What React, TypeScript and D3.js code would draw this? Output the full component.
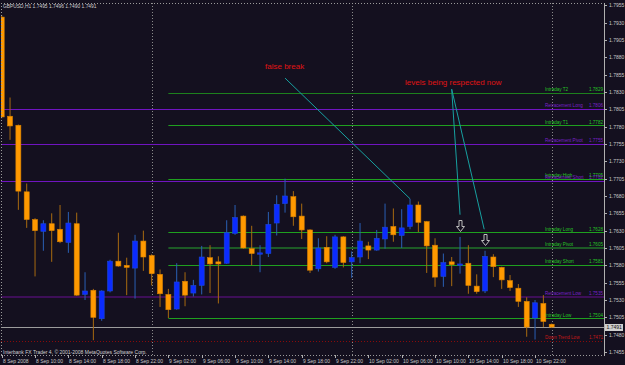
import React from 'react';
import * as d3 from 'd3';

const W = 625;
const H = 365;

const titleText = 'GBPUSD,H1 1.7495 1.7496 1.7490 1.7491';
const copyrightText = 'Interbank FX Trader 4, © 2001-2008 MetaQuotes Software Corp.';

const opens = [1.7938,1.7795,1.7782,1.7686,1.7646,1.7629,1.7640,1.7632,1.7613,1.7640,
  1.7538,1.7544,1.7503,1.7543,1.7586,1.7580,1.7576,1.7615,1.7594,1.7567,
  1.7538,1.7517,1.7557,1.7540,1.7551,1.7591,1.7585,1.7583,1.7626,1.7651,
  1.7604,1.7596,1.7597,1.7641,1.7669,1.7679,1.7651,1.7631,1.7575,1.7606,
  1.7577,1.7621,1.7585,1.7592,1.7608,1.7602,1.7618,1.7636,1.7623,1.7636,
  1.7667,1.7643,1.7609,1.7564,1.7585,1.7580,1.7583,1.7550,1.7543,1.7592,
  1.7577,1.7558,1.7547,1.7528,1.7504,1.7525,1.7495];
const closes = [1.7794,1.7781,1.7687,1.7646,1.7630,1.7640,1.7630,1.7614,1.7641,1.7537,
  1.7543,1.7505,1.7543,1.7586,1.7579,1.7577,1.7615,1.7592,1.7568,1.7539,
  1.7516,1.7556,1.7537,1.7551,1.7592,1.7582,1.7582,1.7627,1.7649,1.7605,
  1.7597,1.7598,1.7639,1.7668,1.7680,1.7650,1.7631,1.7573,1.7605,1.7585,
  1.7621,1.7584,1.7591,1.7615,1.7602,1.7619,1.7635,1.7624,1.7634,1.7667,
  1.7642,1.7608,1.7563,1.7584,1.7581,1.7582,1.7551,1.7542,1.7593,1.7578,
  1.7559,1.7548,1.7528,1.7491,1.7526,1.7499,1.7491];
const highs = [1.7941,1.7822,1.7783,1.7698,1.7648,1.7645,1.7655,1.7667,1.7657,1.7656,
  1.7570,1.7546,1.7544,1.7588,1.7627,1.7591,1.7624,1.7630,1.7596,1.7574,
  1.7546,1.7583,1.7570,1.7559,1.7608,1.7609,1.7593,1.7645,1.7667,1.7652,
  1.7637,1.7609,1.7657,1.7681,1.7705,1.7687,1.7669,1.7632,1.7619,1.7622,
  1.7624,1.7622,1.7600,1.7641,1.7614,1.7631,1.7669,1.7662,1.7661,1.7676,
  1.7672,1.7644,1.7619,1.7597,1.7592,1.7621,1.7609,1.7567,1.7601,1.7596,
  1.7578,1.7566,1.7553,1.7534,1.7530,1.7537,1.7496];
const lows = [1.7792,1.7761,1.7660,1.7634,1.7564,1.7601,1.7585,1.7612,1.7598,1.7536,
  1.7530,1.7472,1.7500,1.7541,1.7578,1.7537,1.7532,1.7572,1.7551,1.7520,
  1.7504,1.7516,1.7521,1.7535,1.7538,1.7540,1.7525,1.7582,1.7624,1.7604,
  1.7580,1.7570,1.7592,1.7623,1.7656,1.7637,1.7618,1.7569,1.7571,1.7583,
  1.7575,1.7577,1.7562,1.7583,1.7589,1.7601,1.7604,1.7614,1.7605,1.7632,
  1.7628,1.7569,1.7549,1.7549,1.7550,1.7568,1.7539,1.7539,1.7540,1.7563,
  1.7546,1.7543,1.7520,1.7477,1.7473,1.7491,1.7490];

const timeLabels = ['8 Sep 2008','8 Sep 10:00','8 Sep 14:00','8 Sep 18:00','8 Sep 22:00',
  '9 Sep 02:00','9 Sep 06:00','9 Sep 10:00','9 Sep 14:00','9 Sep 18:00','9 Sep 22:00',
  '10 Sep 02:00','10 Sep 06:00','10 Sep 10:00','10 Sep 14:00','10 Sep 18:00','10 Sep 22:00'];
const timeLabelIdx = [0,4,8,12,16,20,24,28,32,36,40,44,48,52,56,60,64];
const dayBreakIdx = [18, 42, 66];

const priceTicks = ['1.7955','1.7930','1.7905','1.7880','1.7855','1.7830','1.7805','1.7780',
  '1.7755','1.7730','1.7705','1.7680','1.7655','1.7630','1.7605','1.7580','1.7555','1.7530',
  '1.7505','1.7480','1.7455'];

const levelNames = ['Intraday  T2','Retracement Long','Intraday  T1','Retracement Pivot',
  'Intraday High','Retracement Short','Intraday Long','Intraday Pivot','Intraday Short',
  'Retracement Low','Intraday Low','Down Trend Low'];
const levelValues = [1.7829,1.7806,1.7782,1.7755,1.7705,1.7702,1.7628,1.7605,1.7581,1.7535,1.7504,1.7471];
const levelKinds = ['green2','purple','green','purple','green','purple','green','pivot','green','purpleDark','green','red'];

const lastPrice = 1.7491;

const noteTexts = ['false break', 'levels being respected now'];
const noteTextIdx = [31.6, 48.4];
const noteTextPrice = [1.7863, 1.7840];
const pointerFromIdx = [34.0, 54.0, 54.0];
const pointerFromPrice = [1.7850, 1.7834, 1.7834];
const pointerToIdx = [49.0, 55.0, 57.9];
const pointerToPrice = [1.7676, 1.7653, 1.7632];
const arrowIdx = [55, 58];
const arrowPrice = [1.7629, 1.7609];

const FONT = 'Liberation Sans, Arial, sans-serif';

const levelStyle: Record<string, { line: string; text: string; width: number; dash?: string; start: 'full' | 'late' }> = {
  green: { line: '#1fa01f', text: '#25c425', width: 1, start: 'late' },
  green2: { line: '#1d801d', text: '#25c425', width: 1, start: 'late' },
  pivot: { line: '#1d5a26', text: '#25c425', width: 2, start: 'late' },
  purple: { line: '#7014c0', text: '#7a20c8', width: 1, start: 'full' },
  purpleDark: { line: '#3e0f58', text: '#7a20c8', width: 2, start: 'full' },
  red: { line: '#8a0a0a', text: '#c41818', width: 1, dash: '1,2', start: 'full' },
};

export default function App() {
  const plotL = 1, plotR = 604, plotT = 3, plotB = 355;
  const x = d3.scaleLinear().domain([0, 66]).range([1.7, 551.7]);
  const y = d3.scaleLinear().domain([1.7455, 1.7955]).range([352, 5.3]);
  const bw = 5;

  const candles = opens.map((o, i) => ({ i, o, c: closes[i], h: highs[i], l: lows[i] }));

  return (
    <svg width={W} height={H} style={{ display: 'block', position: 'absolute', left: 0, top: 0, background: '#14101f' }}>
      <rect x={0} y={0} width={W} height={H} fill="#14101f" />
      <defs>
        <clipPath id="plotclip">
          <rect x={plotL} y={plotT} width={plotR - plotL} height={plotB - plotT} />
        </clipPath>
      </defs>

      {dayBreakIdx.map((d) => (
        <line key={'db' + d} x1={Math.round(x(d)) + 0.5} x2={Math.round(x(d)) + 0.5} y1={plotT} y2={plotB}
          stroke="#8a8a8a" strokeWidth={1} strokeDasharray="1,2" />
      ))}

      <g clipPath="url(#plotclip)">
        {levelValues.map((v, i) => {
          const st = levelStyle[levelKinds[i]];
          const x0 = st.start === 'late' ? x(20) : plotL;
          const yy = Math.round(y(v)) + (st.width === 1 ? 0.5 : 0);
          return (
            <line key={'lv' + i} x1={x0} x2={plotR} y1={yy} y2={yy} stroke={st.line}
              strokeWidth={st.width} strokeDasharray={st.dash} />
          );
        })}
        <line x1={plotL} x2={plotR} y1={Math.round(y(lastPrice)) + 0.5} y2={Math.round(y(lastPrice)) + 0.5}
          stroke="#9c9c9c" strokeWidth={1} />

        {candles.map((d) => {
          const bull = d.c >= d.o;
          const cx = x(d.i);
          const top = y(Math.max(d.o, d.c));
          const bot = y(Math.min(d.o, d.c));
          const hgt = Math.max(1.2, bot - top);
          return (
            <g key={'c' + d.i}>
              <line x1={cx} x2={cx} y1={y(d.h)} y2={y(d.l)} stroke={bull ? '#2a5fb4' : '#a86a10'} strokeWidth={1} />
              <rect x={cx - bw / 2} y={top} width={bw} height={hgt}
                fill={bull ? '#0b2bff' : '#ff9900'} stroke={bull ? '#1d49d0' : '#d98200'} strokeWidth={0.6} />
            </g>
          );
        })}

        {levelValues.map((v, i) => {
          const st = levelStyle[levelKinds[i]];
          const yy = y(v) - 1.5;
          return (
            <g key={'ll' + i} fontFamily={FONT} fontSize={4.6} fill={st.text}>
              <text x={545} y={yy}>{levelNames[i]}</text>
              <text x={603} y={yy} textAnchor="end">{v.toFixed(4)}</text>
            </g>
          );
        })}

        {pointerFromIdx.map((fi, i) => (
          <line key={'pl' + i} x1={x(fi)} y1={y(pointerFromPrice[i])} x2={x(pointerToIdx[i])} y2={y(pointerToPrice[i])}
            stroke="#17a0a0" strokeWidth={1} />
        ))}
        {arrowIdx.map((ai, i) => {
          const tx = Math.round(x(ai)) + 0.5;
          const ty = Math.round(y(arrowPrice[i])) + 0.5;
          const p = `M${tx - 1.5},${ty - 11} L${tx + 1.5},${ty - 11} L${tx + 1.5},${ty - 5} L${tx + 4},${ty - 5} L${tx},${ty} L${tx - 4},${ty - 5} L${tx - 1.5},${ty - 5} Z`;
          return <path key={'ar' + i} d={p} fill="none" stroke="#bdbdbd" strokeWidth={1} />;
        })}
        {noteTexts.map((t, i) => (
          <text key={'nt' + i} x={x(noteTextIdx[i])} y={y(noteTextPrice[i])} fontFamily={FONT} fontSize={8}
            fill="#e01414">{t}</text>
        ))}
      </g>

      <line x1={plotL + 0.5} x2={plotL + 0.5} y1={plotT} y2={plotB} stroke="#9a9a9a" strokeDasharray="1,2" />
      <line x1={plotL} x2={plotR} y1={plotT + 0.5} y2={plotT + 0.5} stroke="#9a9a9a" strokeDasharray="1,2" />
      <line x1={plotL} x2={plotR} y1={plotB + 0.5} y2={plotB + 0.5} stroke="#9a9a9a" strokeDasharray="1,2" />
      <line x1={plotR + 0.5} x2={plotR + 0.5} y1={plotT} y2={plotB + 1} stroke="#b0b0b0" strokeWidth={1} />

      <text x={3} y={8} fontFamily={FONT} fontSize={4.9} fill="#cfcfcf">{titleText}</text>
      <text x={3} y={354} fontFamily={FONT} fontSize={5} fill="#cfcfcf">{copyrightText}</text>

      {priceTicks.map((t) => {
        const yy = Math.round(y(+t)) + 0.5;
        return (
          <g key={'pt' + t}>
            <line x1={plotR} x2={plotR + 3} y1={yy} y2={yy} stroke="#b0b0b0" />
            <text x={609} y={yy + 1.8} fontFamily={FONT} fontSize={5} fill="#c8c8c8">{t}</text>
          </g>
        );
      })}
      <rect x={605} y={Math.round(y(lastPrice)) - 3} width={18} height={7} fill="#cfcfcf" />
      <text x={606.5} y={Math.round(y(lastPrice)) + 2.3} fontFamily={FONT} fontSize={5} fill="#111">{lastPrice.toFixed(4)}</text>

      {timeLabelIdx.map((ti, i) => {
        const xx = Math.max(2.5, Math.round(x(ti)) + 0.5);
        return (
          <g key={'tl' + i}>
            <line x1={xx} x2={xx} y1={plotB} y2={plotB + 3} stroke="#b0b0b0" />
            <text x={xx + 0.5} y={362.5} fontFamily={FONT} fontSize={5} fill="#c8c8c8">{timeLabels[i]}</text>
          </g>
        );
      })}
    </svg>
  );
}
